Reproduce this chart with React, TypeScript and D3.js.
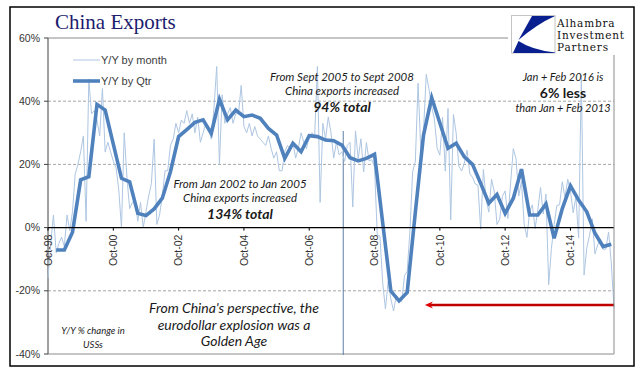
import React from "react";
import * as d3 from "d3";

// ---- Data ----
// Monthly Y/Y % change, index 0 = Oct-1998 ... 208 = Feb-2016
const monthlyYoY: number[] = [
  -16, -5, 4, -8, -5, -3, -6, 4, -1, 5, 17, 20, 24, 29, 2, 47, 36, 37, 34, 29,
  44, 24, 27, 24, 21, 19, 12, 0, 30, 16, 6, 8, 8, 2, 8, 0, 5, 10, 14, 28,
  1, 4, 10, 18, 18, 26, 28, 33, 30, 34, 33, 37, 33, 36, 30, 35, 27, 30, 33, 32,
  28, 38, 51, 20, 42, 33, 36, 38, 33, 36, 36, 45, 32, 30, 33, 29, 32, 29, 28, 27,
  26, 29, 25, 22, 24, 18, 18, 24, 26, 25, 27, 22, 25, 30, 27, 25, 29, 30, 29, 51,
  8, 33, 28, 35, 30, 22, 27, 23, 24, 21, 26, 27, 6.5, 30.6, 21.8, 28.1, 17.6, 26.9, 21.1, 21.5,
  19.2, -2.2, -2.8, -17.5, -25.7, -17.1, -22.6, -26.4, -21.4, -23.0, -23.4, -15.2, -13.8, -1.2, 17.7, 21.0, 45.7, 24.3, 30.5, 48.5,
  43.9, 38.1, 34.4, 25.1, 22.9, 34.9, 17.9, 37.7, 2.4, 35.8, 29.9, 19.4, 17.9, 20.4, 24.5, 17.1, 15.9, 13.8, 13.4, -0.5,
  18.4, 8.9, 4.9, 15.3, 11.3, 1.0, 2.7, 9.9, 11.6, 2.9, 14.1, 25.0, 21.8, 10.0, 14.7, 1.0, -3.1, 5.1, 7.2, -0.3,
  5.6, 12.7, 4.3, 10.6, -18.1, -6.6, 0.9, 7.0, 7.2, 14.5, 9.4, 15.3, 11.6, 4.7, 9.7, -3.3, 48.3, -15.0, -6.4, -2.5,
  2.8, -8.3, -5.5, -3.7, -6.9, -6.8, -1.4, -11.2, -25.4,
];

// Quarterly Y/Y % change, at month indices 3, 6, 9, ... 207
const qtrMonthIndex: number[] = Array.from({ length: 69 }, (_, i) => 3 + i * 3);
const qtrYoY: number[] = [
  -7.1, -7.1, -1.5, 15.1, 16.1, 39, 37.2, 26.4, 15.6, 14.5,
  4.5, 3.8, 5.9, 9.3, 17.7, 28.8, 31, 33.3, 34.1, 29.8,
  40.6, 34.1, 37.2, 35.1, 35.6, 34.6, 31.4, 29.3, 21.9, 26.7,
  24.0, 29.1, 28.8, 27.7, 27.5, 26.1, 22.1, 21.1, 21.9, 23.2,
  1.5, -20.1, -23.2, -20.5, 4.9, 29.3, 41.1, 33.1, 25.1, 26.7,
  22.4, 20.0, 14.0, 7.7, 10.5, 4.5, 9.3, 18.5, 4.0, 4.0,
  7.5, -3.4, 6.0, 13.2, 8.7, 5.0, -1.8, -6.0, -5.3,
];

const xTickIndex: number[] = [0, 24, 48, 72, 96, 120, 144, 168, 192];
const xTickLabels: string[] = ["Oct-98", "Oct-00", "Oct-02", "Oct-04", "Oct-06", "Oct-08", "Oct-10", "Oct-12", "Oct-14"];
const yTicks: number[] = [60, 40, 20, 0, -20, -40];
const markerMonthIndex = 108.5;
const arrowRange: number[] = [208, 138.5];
const arrowValue = -24.5;

const App: React.FC = () => {
  const W = 641, H = 379;
  const L = 48, R = 614, T = 38, B = 354;
  const x = d3.scaleLinear().domain([0, 208]).range([L, R]);
  const y = d3.scaleLinear().domain([-40, 60]).range([B, T]);

  const monthLine = d3.line<number>().x((_, i) => x(i)).y((d) => y(d))(monthlyYoY) || "";
  const qtrLine = d3.line<number>().x((_, i) => x(qtrMonthIndex[i])).y((d) => y(d))(qtrYoY) || "";

  const annFont = "Lato, 'Open Sans', sans-serif";
  const arrowX1 = x(arrowRange[0]);
  const arrowX2 = x(arrowRange[1]);
  const arrowY = y(arrowValue);

  return (
    <svg width={W} height={H} style={{ position: "absolute", left: 0, top: 0, background: "#fff" }}>
      <rect x={0} y={0} width={W} height={H} fill="#fff" />
      {/* outer frame */}
      <rect x={10} y={7} width={624} height={359} fill="none" stroke="#000" strokeWidth={1.5} />

      {/* title */}
      <text x={55} y={29} fontFamily="'Liberation Serif', 'Times New Roman', serif" fontSize={21} fill="#1c1c6e">China Exports</text>

      {/* gridlines */}
      {yTicks.filter((t) => t === 40 || t === 20 || t === -20).map((t) => (
        <line key={"g" + t} x1={L} x2={R} y1={y(t)} y2={y(t)} stroke="#a6a6a6" strokeWidth={1} strokeDasharray="3,2" />
      ))}

      {/* plot frame */}
      <line x1={L} x2={508} y1={T} y2={T} stroke="#8c8c8c" strokeWidth={1} />
      <line x1={L} x2={R} y1={B} y2={B} stroke="#8c8c8c" strokeWidth={1} />
      <line x1={L} x2={L} y1={T} y2={B} stroke="#404040" strokeWidth={1} />

      {/* y axis ticks & labels */}
      {yTicks.map((t) => (
        <g key={"y" + t}>
          <line x1={L - 4} x2={L} y1={y(t)} y2={y(t)} stroke="#404040" />
          <text x={40} y={y(t)} dy="0.35em" textAnchor="end" fontFamily="'Liberation Sans', Arial, sans-serif" fontSize={10.5} fill="#333">{t}%</text>
        </g>
      ))}

      {/* vertical marker */}
      <line x1={x(markerMonthIndex)} x2={x(markerMonthIndex)} y1={131} y2={355} stroke="#5b7fa6" strokeWidth={1} />

      {/* series */}
      <path d={monthLine} fill="none" stroke="#aec6e2" strokeWidth={1} />
      <path d={qtrLine} fill="none" stroke="#4f81bd" strokeWidth={3.6} strokeLinejoin="miter" />

      {/* zero axis */}
      <line x1={L} x2={R} y1={y(0)} y2={y(0)} stroke="#000" strokeWidth={1.2} />
      {xTickIndex.map((m, i) => (
        <g key={"x" + m}>
          <line x1={x(m)} x2={x(m)} y1={y(0)} y2={y(0) + 3} stroke="#000" />
          <text transform={`translate(${x(m)},${y(0) + 7}) rotate(-90)`} dy="0.35em" textAnchor="end" fontFamily="'Liberation Sans', Arial, sans-serif" fontSize={10.5} fill="#333">{xTickLabels[i]}</text>
        </g>
      ))}

      {/* legend */}
      <line x1={73} x2={100} y1={60} y2={60} stroke="#aec6e2" strokeWidth={1} />
      <text x={101} y={64} fontFamily="'Liberation Sans', Arial, sans-serif" fontSize={11} fill="#404040">Y/Y by month</text>
      <line x1={73} x2={100} y1={81} y2={81} stroke="#4f81bd" strokeWidth={3.6} />
      <text x={101} y={85} fontFamily="'Liberation Sans', Arial, sans-serif" fontSize={11} fill="#404040">Y/Y by Qtr</text>

      {/* annotations */}
      <g fontFamily={annFont} fontStyle="italic" fill="#1a1a1a" textAnchor="middle">
        <text x={342} y={81} fontSize={11.5}>From Sept 2005 to Sept 2008</text>
        <text x={342} y={94.5} fontSize={11.5}>China exports increased</text>
        <text x={342} y={112} fontSize={14} fontWeight="bold">94% total</text>

        <text x={240} y={188} fontSize={11.5}>From Jan 2002 to Jan 2005</text>
        <text x={240} y={201.5} fontSize={11.5}>China exports increased</text>
        <text x={240} y={219} fontSize={14} fontWeight="bold">134% total</text>

        <text x={563} y={80.5} fontSize={11}>Jan + Feb 2016 is</text>
        <text x={563} y={98} fontSize={14} fontWeight="bold" fontStyle="normal">6% less</text>
        <text x={563} y={112} fontSize={11}>than Jan + Feb 2013</text>

        <text x={234} y={313} fontSize={14}>From China's perspective, the</text>
        <text x={234} y={329.5} fontSize={14}>eurodollar explosion was a</text>
        <text x={234} y={346} fontSize={14}>Golden Age</text>

        <text x={93} y={334} fontSize={9.5}>Y/Y % change in</text>
        <text x={93} y={348} fontSize={9.5}>USSs</text>
      </g>

      {/* red arrow */}
      <line x1={arrowX1} x2={arrowX2 + 4} y1={arrowY} y2={arrowY} stroke="#c00000" strokeWidth={2.5} />
      <path d={`M${arrowX2},${arrowY} L${arrowX2 + 8},${arrowY - 3.5} L${arrowX2 + 5.5},${arrowY} L${arrowX2 + 8},${arrowY + 3.5} Z`} fill="#e00000" />

      {/* logo */}
      <rect x={508} y={10} width={120} height={44} fill="#fff" />
      <rect x={511.5} y={15.5} width={43.5} height={37.5} fill="#fff" stroke="#c4c4c4" strokeWidth={1} />
      <path d="M532,16 L555,16 Q537,24 518.5,40 Z" fill="#0a1f8f" />
      <path d="M518.5,41 Q532,50 555,52.5 L555,53 L513,53 Z" fill="#0a1f8f" />
      <g fontFamily="'DejaVu Serif', serif" fontSize={10.5} letterSpacing={0.8} fill="#111">
        <text x={557} y={26.5}>Alhambra</text>
        <text x={557} y={38.5}>Investment</text>
        <text x={557} y={50.5}>Partners</text>
      </g>
      <line x1={R} x2={R} y1={55} y2={B} stroke="#8c8c8c" strokeWidth={1} />
    </svg>
  );
};

export default App;
